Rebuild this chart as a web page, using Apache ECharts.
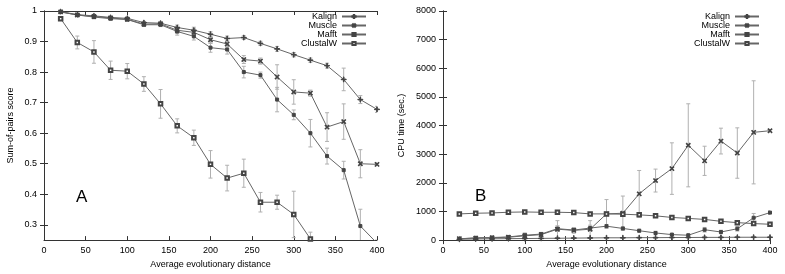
<!DOCTYPE html>
<html>
<head>
<meta charset="utf-8">
<script src="https://cdn.jsdelivr.net/npm/echarts@6/dist/echarts.min.js"></script>
<style>
  html, body { margin: 0; padding: 0; background: #fff; }
  #chart { width: 785px; height: 274px; }
</style>
</head>
<body>
<div id="chart"></div>
<script>
const distances = [20, 40, 60, 80, 100, 120, 140, 160, 180, 200, 220, 240, 260, 280, 300, 320, 340, 360, 380, 400]
const seriesNames = ['Kalign', 'Muscle', 'Mafft', 'ClustalW']

// panel A: sum-of-pairs score
const spKalign = [0.998, 0.988, 0.984, 0.979, 0.976, 0.962, 0.960, 0.946, 0.937, 0.924, 0.910, 0.913, 0.894, 0.876, 0.857, 0.839, 0.821, 0.776, 0.710, 0.678]
const spMuscle = [0.997, 0.987, 0.982, 0.977, 0.973, 0.957, 0.958, 0.937, 0.930, 0.906, 0.892, 0.841, 0.836, 0.784, 0.735, 0.731, 0.620, 0.638, 0.500, 0.498]
const spMafft = [0.997, 0.987, 0.980, 0.975, 0.972, 0.955, 0.955, 0.933, 0.917, 0.880, 0.874, 0.800, 0.790, 0.710, 0.660, 0.600, 0.525, 0.479, 0.296, 0.240]
const spClustal = [0.975, 0.897, 0.866, 0.806, 0.803, 0.761, 0.696, 0.624, 0.585, 0.498, 0.453, 0.469, 0.374, 0.374, 0.334, 0.254, 0.210, null, null, null]
const spErrKalign = [0.002, 0.003, 0.004, 0.004, 0.004, 0.004, 0.005, 0.008, 0.010, 0.008, 0.008, 0.006, 0.007, 0.008, 0.007, 0.007, 0.008, 0.037, 0.013, 0.010]
const spErrMuscle = [0.002, 0.003, 0.005, 0.005, 0.005, 0.005, 0.006, 0.010, 0.012, 0.012, 0.010, 0.013, 0.010, 0.040, 0.040, 0.010, 0.047, 0.058, 0.046, 0.005]
const spErrMafft = [0.002, 0.003, 0.005, 0.005, 0.005, 0.005, 0.006, 0.012, 0.012, 0.015, 0.015, 0.019, 0.010, 0.040, 0.016, 0.045, 0.026, 0.029, 0.055, 0.010]
const spErrClustal = [0.003, 0.021, 0.037, 0.030, 0.025, 0.024, 0.047, 0.023, 0.025, 0.045, 0.042, 0.046, 0.032, 0.023, 0.076, 0.022, 0, 0, 0, 0]

// panel B: cpu time (sec.)
const cpuKalign = [30, 40, 45, 50, 55, 60, 65, 70, 75, 80, 80, 85, 85, 90, 90, 95, 95, 100, 100, 100]
const cpuMuscle = [50, 70, 80, 100, 150, 190, 380, 340, 380, 915, 938, 1616, 2079, 2497, 3310, 2768, 3458, 3040, 3763, 3819]
const cpuMafft = [40, 80, 90, 110, 170, 210, 400, 350, 420, 486, 407, 328, 249, 192, 170, 362, 283, 396, 780, 960]
const cpuClustal = [915, 938, 949, 972, 983, 972, 972, 960, 915, 915, 904, 881, 847, 791, 757, 723, 655, 610, 576, 554]
const cpuErrKalign = [10, 10, 10, 10, 10, 10, 10, 10, 10, 10, 10, 10, 10, 10, 10, 10, 10, 10, 10, 10]
const cpuErrMuscle = [20, 20, 30, 30, 100, 80, 300, 100, 300, 500, 600, 815, 400, 900, 1450, 510, 450, 880, 1800, 50]
const cpuErrMafft = [10, 10, 10, 10, 30, 30, 100, 50, 100, 60, 50, 50, 60, 40, 30, 80, 60, 80, 150, 60]
const cpuErrClustal = [20, 20, 20, 20, 20, 20, 20, 20, 20, 20, 20, 20, 20, 20, 20, 20, 20, 20, 20, 20]

const spTicks = [0.3, 0.4, 0.5, 0.6, 0.7, 0.8, 0.9, 1]

const FONT = 'Liberation Sans'
const lineColor = '#666'
const markColor = '#444'
const barColor = '#b0b0b0'
const plusPath = 'path://M4.4,0h1.2v4.4h4.4v1.2h-4.4v4.4h-1.2v-4.4h-4.4v-1.2h4.4z'
const symbols = [
  { symbol: plusPath, symbolSize: 5, symbolRotate: 0 },
  { symbol: plusPath, symbolSize: 5, symbolRotate: 45 },
  { symbol: 'rect', symbolSize: 3, symbolRotate: 0 },
  { symbol: 'emptyRect', symbolSize: 3.5, symbolRotate: 0 }
]

function pairs(ys) {
  return distances.map((d, i) => [d, ys[i]])
}
function errData(ys, es) {
  let out = []
  distances.forEach((d, i) => {
    if (ys[i] !== null) out.push([d, ys[i] - es[i], ys[i] + es[i]])
  })
  return out
}
function errRender(params, api) {
  let x = api.value(0)
  let top = api.coord([x, api.value(2)])
  let bot = api.coord([x, api.value(1)])
  let w = 2
  let st = { stroke: barColor, lineWidth: 1 }
  return {
    type: 'group',
    children: [
      { type: 'line', shape: { x1: top[0], y1: top[1], x2: bot[0], y2: bot[1] }, style: st },
      { type: 'line', shape: { x1: top[0] - w, y1: top[1], x2: top[0] + w, y2: top[1] }, style: st },
      { type: 'line', shape: { x1: bot[0] - w, y1: bot[1], x2: bot[0] + w, y2: bot[1] }, style: st }
    ]
  }
}

function lineSeries(name, idx, ys, axis) {
  return {
    name: name,
    type: 'line',
    xAxisIndex: axis,
    yAxisIndex: axis,
    data: pairs(ys),
    symbol: symbols[idx].symbol,
    symbolSize: symbols[idx].symbolSize,
    symbolRotate: symbols[idx].symbolRotate,
    showAllSymbol: true,
    clip: true,
    connectNulls: false,
    lineStyle: { color: lineColor, width: 1 },
    itemStyle: { color: markColor, borderColor: markColor, borderWidth: 1 },
    z: 3,
    animation: false
  }
}
function errSeries(ys, es, axis) {
  return {
    type: 'custom',
    xAxisIndex: axis,
    yAxisIndex: axis,
    data: errData(ys, es),
    renderItem: errRender,
    clip: true,
    z: 2,
    silent: true,
    animation: false
  }
}

const labelStyle = { color: '#000', fontFamily: FONT, fontSize: 9 }
function xAx(grid, top) {
  return {
    type: 'value', gridIndex: grid, min: 0, max: 400, interval: 50,
    position: top ? 'top' : 'bottom',
    name: top ? '' : 'Average evolutionary distance',
    nameLocation: 'middle', nameGap: 17,
    nameTextStyle: labelStyle,
    axisLine: { show: true, lineStyle: { color: '#333', width: 1 } },
    axisTick: { show: true, inside: true, length: 4, lineStyle: { color: '#333' } },
    axisLabel: Object.assign({ show: !top, margin: 6 }, labelStyle),
    splitLine: { show: false }
  }
}
function ySp(right) {
  return {
    type: 'value', gridIndex: 0, min: 0.25, max: 1,
    position: right ? 'right' : 'left',
    name: right ? '' : 'Sum-of-pairs score',
    nameLocation: 'middle', nameGap: 29,
    nameTextStyle: labelStyle,
    axisLine: { show: true, lineStyle: { color: '#333', width: 1 } },
    axisTick: { show: true, inside: true, length: 4, customValues: spTicks, lineStyle: { color: '#333' } },
    axisLabel: Object.assign({ show: !right, margin: 7, customValues: spTicks }, labelStyle),
    splitLine: { show: false }
  }
}
function yCpu(right) {
  return {
    type: 'value', gridIndex: 1, min: 0, max: 8000, interval: 1000,
    position: right ? 'right' : 'left',
    name: right ? '' : 'CPU time (sec.)',
    nameLocation: 'middle', nameGap: 37,
    nameTextStyle: labelStyle,
    axisLine: { show: true, lineStyle: { color: '#333', width: 1 } },
    axisTick: { show: true, inside: true, length: 4, lineStyle: { color: '#333' } },
    axisLabel: Object.assign({ show: !right, margin: 7, formatter: v => String(v) }, labelStyle),
    splitLine: { show: false }
  }
}
function legendAt(right) {
  return {
    data: seriesNames,
    orient: 'vertical',
    right: right,
    top: 12,
    padding: 0,
    align: 'right',
    itemWidth: 24,
    itemHeight: 4,
    itemGap: 0,
    textStyle: { color: '#000', fontFamily: FONT, fontSize: 9, lineHeight: 9, padding: [0, 0, 0, 0] }
  }
}

const spY = [spKalign, spMuscle, spMafft, spClustal]
const spE = [spErrKalign, spErrMuscle, spErrMafft, spErrClustal]
const cpuY = [cpuKalign, cpuMuscle, cpuMafft, cpuClustal]
const cpuE = [cpuErrKalign, cpuErrMuscle, cpuErrMafft, cpuErrClustal]

let series = []
seriesNames.forEach((n, i) => {
  series.push(errSeries(spY[i], spE[i], 0))
  series.push(lineSeries(n, i, spY[i], 0))
})
seriesNames.forEach((n, i) => {
  series.push(errSeries(cpuY[i], cpuE[i], 2))
  series.push(lineSeries(n, i, cpuY[i], 2))
})

const chart = echarts.init(document.getElementById('chart'), null, { renderer: 'canvas' })
chart.setOption({
  animation: false,
  backgroundColor: '#fff',
  grid: [
    { left: 44, top: 11, width: 333, height: 236 },
    { left: 443, top: 11, width: 327, height: 236 }
  ],
  xAxis: [xAx(0, false), xAx(0, true), xAx(1, false), xAx(1, true)],
  yAxis: [ySp(false), ySp(true), yCpu(false), yCpu(true)],
  legend: [legendAt(418), legendAt(25)],
  graphic: [
    { type: 'text', left: 76, top: 189, style: { text: 'A', fontFamily: FONT, fontSize: 17, fill: '#000' } },
    { type: 'text', left: 475, top: 188, style: { text: 'B', fontFamily: FONT, fontSize: 17, fill: '#000' } }
  ],
  series: series
})
</script>
</body>
</html>
